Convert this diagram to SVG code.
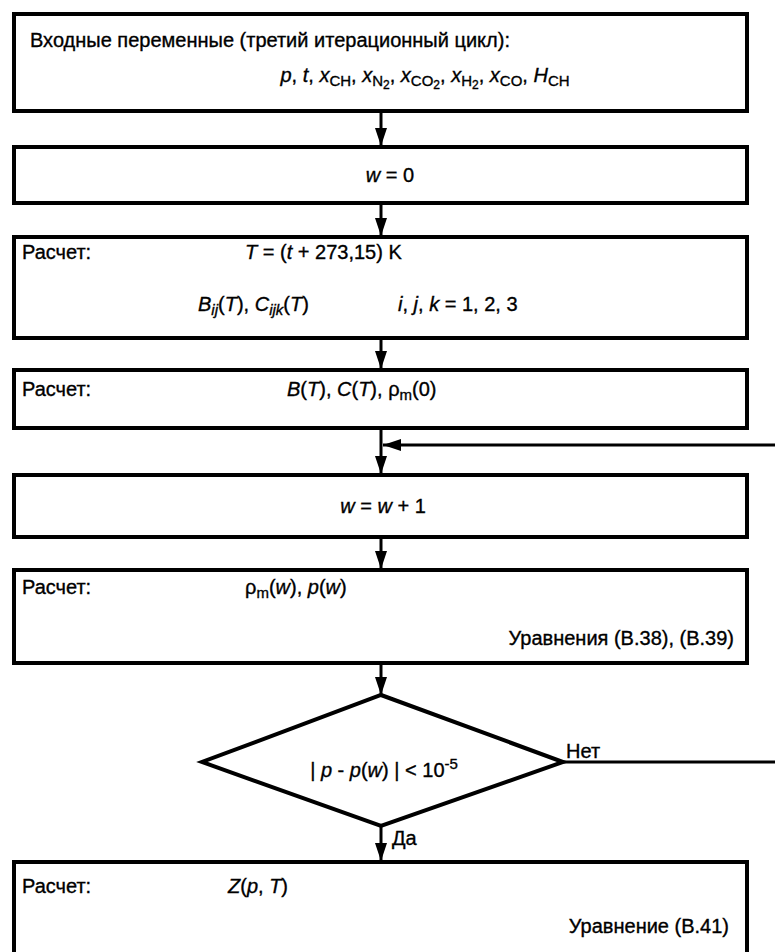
<svg xmlns="http://www.w3.org/2000/svg" width="775" height="952" viewBox="0 0 775 952">
<defs>
<style>
.box{fill:#fff;stroke:#000;stroke-width:4}
.ln{fill:none;stroke:#000;stroke-width:3}
text{font-family:"Liberation Sans",Arial,sans-serif;font-size:20px;fill:#000;stroke:#000;stroke-width:0.35}
.i{font-style:italic}
.s{font-size:15px}
.ss{font-size:12px}
</style>
<marker id="ah" viewBox="0 0 18 12" refX="18" refY="6" markerWidth="18" markerHeight="12" markerUnits="userSpaceOnUse" orient="auto">
<path d="M0,0 L18,6 L0,12 Z" fill="#000"/>
</marker>
</defs>
<rect width="775" height="952" fill="#fff"/>
<g id="connectors">
<line class="ln" x1="381" y1="111" x2="381" y2="146" marker-end="url(#ah)"/>
<line class="ln" x1="381" y1="203" x2="381" y2="236" marker-end="url(#ah)"/>
<line class="ln" x1="381" y1="338" x2="381" y2="369" marker-end="url(#ah)"/>
<line class="ln" x1="381" y1="428" x2="381" y2="474" marker-end="url(#ah)"/>
<line class="ln" x1="775" y1="445" x2="383" y2="445" marker-end="url(#ah)"/>
<line class="ln" x1="381" y1="537" x2="381" y2="569" marker-end="url(#ah)"/>
<line class="ln" x1="381" y1="663" x2="381" y2="695" marker-end="url(#ah)"/>
<line class="ln" x1="563" y1="762" x2="775" y2="762"/>
<line class="ln" x1="381" y1="826" x2="381" y2="861" marker-end="url(#ah)"/>
<text x="566" y="758">Нет</text>
<text x="392" y="845">Да</text>
</g>
<g id="n1">
<rect class="box" x="14" y="14" width="733" height="97"/>
<text x="30" y="47">Входные переменные (третий итерационный цикл):</text>
<text x="425" y="82" text-anchor="middle"><tspan class="i">p</tspan>, <tspan class="i">t</tspan>, <tspan class="i">x</tspan><tspan class="s" dy="4">CH</tspan><tspan dy="-4">, </tspan><tspan class="i">x</tspan><tspan class="s" dy="4">N</tspan><tspan class="ss" dy="3">2</tspan><tspan dy="-7">, </tspan><tspan class="i">x</tspan><tspan class="s" dy="4">CO</tspan><tspan class="ss" dy="3">2</tspan><tspan dy="-7">, </tspan><tspan class="i">x</tspan><tspan class="s" dy="4">H</tspan><tspan class="ss" dy="3">2</tspan><tspan dy="-7">, </tspan><tspan class="i">x</tspan><tspan class="s" dy="4">CO</tspan><tspan dy="-4">, </tspan><tspan class="i">H</tspan><tspan class="s" dy="4">CH</tspan></text>
</g>
<g id="n2">
<rect class="box" x="14" y="147" width="733" height="56"/>
<text x="390" y="182" text-anchor="middle"><tspan class="i">w</tspan> = 0</text>
</g>
<g id="n3">
<rect class="box" x="14" y="237" width="733" height="101"/>
<text x="22" y="259">Расчет:</text>
<text x="245" y="259"><tspan class="i">T</tspan> = (<tspan class="i">t</tspan> + 273,15) K</text>
<text x="198" y="311"><tspan class="i">B</tspan><tspan class="s i" dy="4">ij</tspan><tspan dy="-4">(</tspan><tspan class="i">T</tspan>), <tspan class="i">C</tspan><tspan class="s i" dy="4">ijk</tspan><tspan dy="-4">(</tspan><tspan class="i">T</tspan>)</text>
<text x="398" y="311"><tspan class="i">i</tspan>, <tspan class="i">j</tspan>, <tspan class="i">k</tspan> = 1, 2, 3</text>
</g>
<g id="n4">
<rect class="box" x="14" y="370" width="733" height="58"/>
<text x="22" y="396">Расчет:</text>
<text x="287" y="396"><tspan class="i">B</tspan>(<tspan class="i">T</tspan>), <tspan class="i">C</tspan>(<tspan class="i">T</tspan>), ρ<tspan class="s" dy="4">m</tspan><tspan dy="-4">(0)</tspan></text>
</g>
<g id="n5">
<rect class="box" x="14" y="475" width="733" height="62"/>
<text x="383" y="513" text-anchor="middle"><tspan class="i">w</tspan> = <tspan class="i">w</tspan> + 1</text>
</g>
<g id="n6">
<rect class="box" x="14" y="570" width="733" height="93"/>
<text x="22" y="594">Расчет:</text>
<text x="245" y="594">ρ<tspan class="s" dy="4">m</tspan><tspan dy="-4">(</tspan><tspan class="i">w</tspan>), <tspan class="i">p</tspan>(<tspan class="i">w</tspan>)</text>
<text x="734" y="645" text-anchor="end">Уравнения (В.38), (В.39)</text>
</g>
<g id="n7">
<polygon class="box" points="381,695 563,762 381,826 202,762"/>
<text x="384" y="777" text-anchor="middle">| <tspan class="i">p</tspan> - <tspan class="i">p</tspan>(<tspan class="i">w</tspan>) | &lt; 10<tspan class="s" dy="-8">-5</tspan></text>
</g>
<g id="n8">
<rect class="box" x="14" y="862" width="733" height="100"/>
<text x="22" y="893">Расчет:</text>
<text x="228" y="893"><tspan class="i">Z</tspan>(<tspan class="i">p</tspan>, <tspan class="i">T</tspan>)</text>
<text x="729" y="933" text-anchor="end">Уравнение (В.41)</text>
</g>
</svg>
